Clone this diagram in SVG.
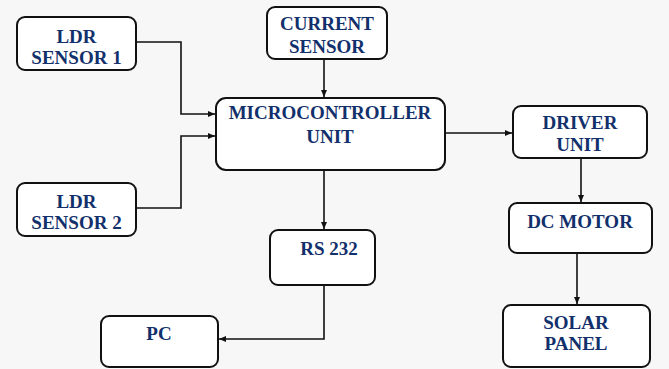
<svg xmlns="http://www.w3.org/2000/svg" width="669" height="369" viewBox="0 0 669 369">
<defs>
<marker id="ah" markerWidth="8" markerHeight="8" refX="7" refY="4" orient="auto" markerUnits="userSpaceOnUse">
<path d="M0,1 L7,4 L0,7 Z" fill="#111"/>
</marker>
</defs>
<style>
.box{fill:#fff;stroke:#111;stroke-width:2}
.t{font-weight:bold;font-size:19px;fill:#12306b;text-anchor:middle}
.c{fill:none;stroke:#111;stroke-width:1.6}
</style>
<rect width="669" height="369" fill="#f7f7f7"/>
<g id="connectors">
<polyline class="c" points="136,42 181,42 181,114 215,114" marker-end="url(#ah)"/>
<polyline class="c" points="136,208 181,208 181,136 215,136" marker-end="url(#ah)"/>
<line class="c" x1="324" y1="59" x2="324" y2="97" marker-end="url(#ah)"/>
<line class="c" x1="445" y1="133" x2="512" y2="133" marker-end="url(#ah)"/>
<line class="c" x1="581" y1="158" x2="581" y2="202" marker-end="url(#ah)"/>
<line class="c" x1="577" y1="253" x2="577" y2="304" marker-end="url(#ah)"/>
<line class="c" x1="324" y1="170" x2="324" y2="229" marker-end="url(#ah)"/>
<polyline class="c" points="324,285 324,339 219,339" marker-end="url(#ah)"/>
</g>
<g font-family="'Liberation Serif', 'DejaVu Serif', serif">
<g id="ldr1">
<rect class="box" x="17" y="17" width="119" height="53" rx="8"/>
<text class="t" x="76.5" y="43">LDR</text>
<text class="t" x="76.5" y="64">SENSOR 1</text>
</g>
<g id="ldr2">
<rect class="box" x="17" y="183" width="119" height="53" rx="8"/>
<text class="t" x="76.5" y="208">LDR</text>
<text class="t" x="76.5" y="229">SENSOR 2</text>
</g>
<g id="current">
<rect class="box" x="267" y="7" width="120" height="52" rx="8"/>
<text class="t" x="327" y="30">CURRENT</text>
<text class="t" x="327" y="53">SENSOR</text>
</g>
<g id="mcu">
<rect class="box" x="216" y="98" width="229" height="72" rx="10"/>
<text class="t" x="330" y="119">MICROCONTROLLER</text>
<text class="t" x="330" y="143">UNIT</text>
</g>
<g id="driver">
<rect class="box" x="513" y="106" width="134" height="52" rx="8"/>
<text class="t" x="580" y="129">DRIVER</text>
<text class="t" x="580" y="151">UNIT</text>
</g>
<g id="motor">
<rect class="box" x="509" y="203" width="143" height="50" rx="8"/>
<text class="t" x="580" y="228">DC MOTOR</text>
</g>
<g id="solar">
<rect class="box" x="503" y="305" width="147" height="62" rx="8"/>
<text class="t" x="576" y="329">SOLAR</text>
<text class="t" x="576" y="350">PANEL</text>
</g>
<g id="rs232">
<rect class="box" x="270" y="230" width="105" height="55" rx="8"/>
<text class="t" x="329" y="255">RS 232</text>
</g>
<g id="pc">
<rect class="box" x="101" y="316" width="117" height="51" rx="8"/>
<text class="t" x="159" y="340">PC</text>
</g>
</g>
</svg>
